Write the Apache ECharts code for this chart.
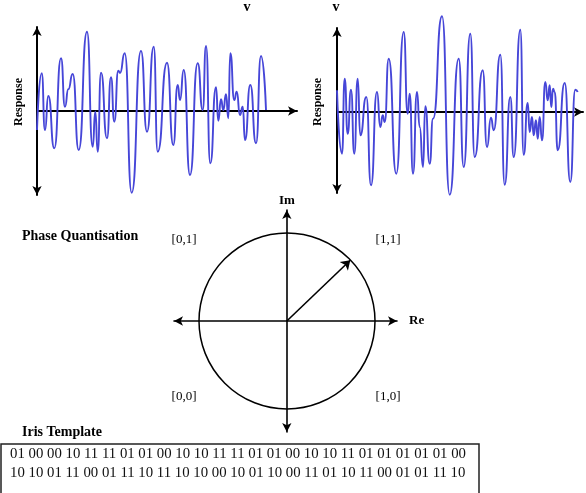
<!DOCTYPE html>
<html>
<head>
<meta charset="utf-8">
<script src="https://cdn.jsdelivr.net/npm/echarts@6/dist/echarts.min.js"></script>
<style>
html, body { margin: 0; padding: 0; background: #fff; }
#chart { width: 586px; height: 493px; }
</style>
</head>
<body>
<div id="chart"></div>
<script>
// waveform extrema: [position, response]
const leftWave = [
  [0,-19],[4.7,37.7],[8,-19],[11.3,15],[17.3,-37.3],[24,52.7],[28,4.3],[31.3,21.7],
  [35.7,37],[41.7,-39],[50,79.3],[55.7,-35.7],[58.3,-0.7],[60.7,-40.7],[64,38.3],
  [70,-27.3],[74,33.7],[77.3,-10.7],[81.3,40.3],[83,38],[87.7,57.7],[94.7,-81.7],
  [104,60],[110,-20.7],[116.7,64.3],[120.7,-40.7],[130,48.3],[136.3,-34],[140.7,26],
  [143,11],[146.7,41],[153,-64],[160.7,47.7],[165.7,1],[169,65],[173.3,-52.3],
  [179,23.7],[181.3,-9.7],[184,11.7],[186.3,1],[189,16.7],[191.3,-7.3],[193.3,57.7],
  [197.3,11],[199.7,19.3],[203,-4],[205.7,4.3],[208,-29],[213.3,26],[219,-32.3],
  [224,55],[229,1]
];
const rightWave = [
  [0,21.7],[5,-41.7],[7.7,33.3],[10.7,-21.7],[14,22.3],[17.3,-41.7],[20.7,33.3],
  [23.3,-23.3],[29.3,15],[34,-73.3],[40,20],[43.3,-15],[45.7,-3.3],[47.7,-10],
  [51.7,53.3],[59.3,-61.7],[66.7,80],[70.7,-1.7],[72.7,18.3],[76,-61.7],[80,20],
  [82.7,-15],[86,-55],[88.3,5.7],[92.7,-51.7],[96,-6.7],[105,95.7],[112.7,-82.7],
  [121.7,53.3],[126.7,-55],[133.3,78.3],[137.7,-45],[145.7,41.7],[150,-35],
  [154,-5.7],[156.7,-18.3],[163.3,57.3],[167.7,-72.7],[173.3,15],[176.7,-45],
  [183.3,82.3],[186.7,-42.7],[190.7,9],[192.7,-20],[195,-5],[196.7,-23.3],[199,-8.3],
  [200.7,-26.7],[202.7,-5],[205,-28.3],[208.3,30],[210.7,11.7],[212.7,26.7],
  [214.3,5],[216,23.3],[217.7,20],[220.7,-38.3],[227.7,29],[233.3,-70],[238.3,22.3],
  [240.7,20]
];
const phasor = [[0, 0], [0.72, 0.69]];
const quadrantLabels = ['[0,1]', '[1,1]', '[0,0]', '[1,0]'];
const templateRows = [
  '01 00 00 10 11 11 01 01 00 10 10 11 11 01 01 00 10 10 11 01 01 01 01 01 00',
  '10 10 01 11 00 01 11 10 11 10 10 00 10 01 10 00 11 01 10 11 00 01 01 11 10'
];

const serif = 'Liberation Serif';
const myChart = echarts.init(document.getElementById('chart'));

function waveAxes(gridIndex, xMax, yMin, yMax) {
  const line = { show: true, lineStyle: { color: '#000', width: 2 } };
  return {
    x: {
      type: 'value', gridIndex: gridIndex, min: 0, max: xMax,
      axisLine: Object.assign({ symbol: ['none', 'arrow'], symbolSize: [7, 9] }, line),
      axisTick: { show: false }, axisLabel: { show: false }, splitLine: { show: false }
    },
    y: {
      type: 'value', gridIndex: gridIndex, min: yMin, max: yMax,
      axisLine: Object.assign({ symbol: ['arrow', 'arrow'], symbolSize: [7, 9] }, line),
      axisTick: { show: false }, axisLabel: { show: false }, splitLine: { show: false }
    }
  };
}

const w1 = waveAxes(0, 260, -84, 84);
const w2 = waveAxes(1, 246, -81, 84);
const phaseLine = { show: true, onZero: true, symbol: ['arrow', 'arrow'], symbolSize: [7, 9],
  lineStyle: { color: '#000', width: 1.6 } };

const waveStyle = { color: '#4646d8', width: 1.9 };

function label(text, x, y, font, extra) {
  return Object.assign({ type: 'text', x: x, y: y,
    style: { text: text, font: font, fill: '#000', align: 'center', verticalAlign: 'middle' } }, extra || {});
}

const option = {
  animation: false,
  backgroundColor: '#fff',
  grid: [
    { left: 37, top: 27, width: 260, height: 168 },
    { left: 337, top: 28, width: 246, height: 165 },
    { left: 174, top: 210, width: 223, height: 222 }
  ],
  polar: { center: [287, 321], radius: 88 },
  angleAxis: {
    min: 0, max: 360, startAngle: 90,
    axisLine: { show: true, lineStyle: { color: '#000', width: 1.5 } },
    axisTick: { show: false }, axisLabel: { show: false }, splitLine: { show: false }
  },
  radiusAxis: { min: 0, max: 1, show: false },
  xAxis: [w1.x, w2.x, {
    type: 'value', gridIndex: 2, min: -1.28, max: 1.25,
    name: 'Re', nameLocation: 'end', nameGap: 12,
    nameTextStyle: { fontFamily: serif, fontSize: 13, color: '#000', fontWeight: 'bold' },
    axisLine: phaseLine,
    axisTick: { show: false }, axisLabel: { show: false }, splitLine: { show: false }
  }],
  yAxis: [w1.y, w2.y, {
    type: 'value', gridIndex: 2, min: -1.26, max: 1.26,
    name: 'Im', nameLocation: 'end', nameGap: 3,
    nameTextStyle: { fontFamily: serif, fontSize: 13, color: '#000', fontWeight: 'bold' },
    axisLine: phaseLine,
    axisTick: { show: false }, axisLabel: { show: false }, splitLine: { show: false }
  }],
  series: [
    {
      type: 'line', xAxisIndex: 0, yAxisIndex: 0, data: leftWave,
      smooth: 0.6, smoothMonotone: 'x', showSymbol: false, clip: false,
      lineStyle: waveStyle
    },
    {
      type: 'line', xAxisIndex: 1, yAxisIndex: 1, data: rightWave,
      smooth: 0.6, smoothMonotone: 'x', showSymbol: false, clip: false,
      lineStyle: waveStyle
    },
    {
      type: 'lines', coordinateSystem: 'cartesian2d', xAxisIndex: 2, yAxisIndex: 2,
      symbol: ['none', 'arrow'], symbolSize: 9,
      lineStyle: { color: '#000', width: 1.6, opacity: 1 },
      data: [{ coords: phasor }]
    }
  ],
  graphic: [
    label('v', 247, 7, 'bold 14px ' + serif),
    label('v', 336, 7, 'bold 14px ' + serif),
    label('Response', 19, 102, 'bold 12px ' + serif, { rotation: Math.PI / 2 }),
    label('Response', 318, 102, 'bold 12px ' + serif, { rotation: Math.PI / 2 }),
    { type: 'text', x: 22, y: 236, style: { text: 'Phase Quantisation', font: 'bold 14px ' + serif, fill: '#000', verticalAlign: 'middle' } },
    label(quadrantLabels[0], 184, 240, '13px ' + serif),
    label(quadrantLabels[1], 388, 240, '13px ' + serif),
    label(quadrantLabels[2], 184, 397, '13px ' + serif),
    label(quadrantLabels[3], 388, 397, '13px ' + serif),
    { type: 'text', x: 22, y: 432, style: { text: 'Iris Template', font: 'bold 14px ' + serif, fill: '#000', verticalAlign: 'middle' } },
    { type: 'rect', shape: { x: 1, y: 444, width: 478, height: 60 }, style: { fill: 'none', stroke: '#222', lineWidth: 1.5 } },
    { type: 'text', x: 10, y: 454, style: { text: templateRows[0], font: '14.8px ' + serif, fill: '#111', verticalAlign: 'middle' } },
    { type: 'text', x: 10, y: 473, style: { text: templateRows[1], font: '14.8px ' + serif, fill: '#111', verticalAlign: 'middle' } }
  ]
};

myChart.setOption(option);
</script>
</body>
</html>
